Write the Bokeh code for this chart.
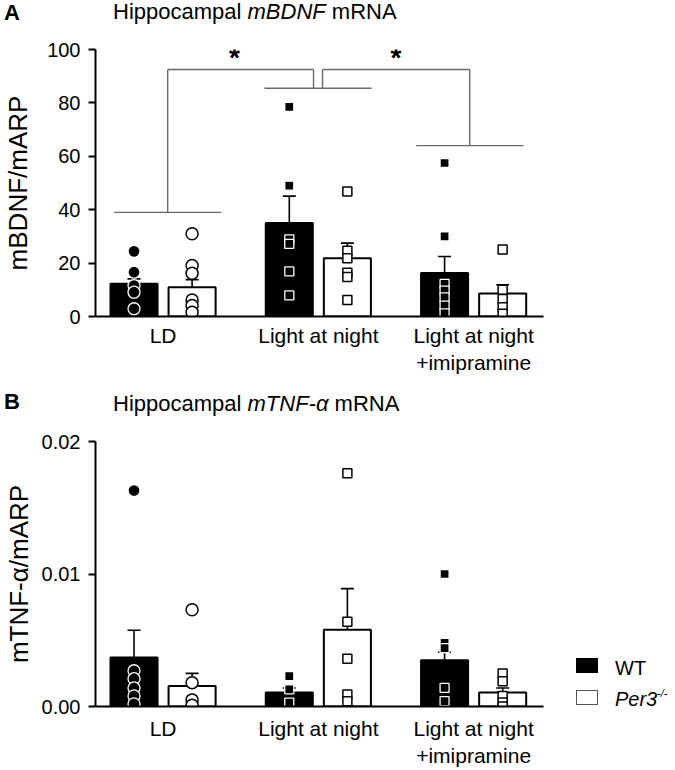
from bokeh.plotting import figure
from bokeh.layouts import column, row
from bokeh.models import (Range1d, FixedTicker, Whisker, TeeHead, NumeralTickFormatter,
                          ColumnDataSource, Div)
from bokeh.core.properties import value
from bokeh.embed import file_html
from bokeh.resources import INLINE

FONT = "Liberation Sans"

# ---------------- data ----------------
groups = ["LD", "Light at night", "Light at night\n+imipramine"]
group_x = [1, 2, 3]

# Panel A: hippocampal mBDNF mRNA (mBDNF/mARP)
bdnf_wt_mean = [12.3, 35.0, 16.3]
bdnf_wt_top = [14.1, 45.1, 22.5]
bdnf_ko_mean = [11.0, 21.8, 8.6]
bdnf_ko_top = [13.8, 27.5, 11.9]
bdnf_wt_pts = [[24.4, 16.6, 11.6, 9.1, 2.9],
               [78.5, 49.0, 28.9, 27.2, 16.9, 7.9],
               [57.5, 30.0, 12.2, 9.7, 7.2, 4.1, 1.2]]
bdnf_ko_pts = [[31.0, 19.1, 16.2, 6.2, 4.1, 1.6],
               [46.8, 24.6, 21.8, 16.4, 14.8, 6.2],
               [25.1, 10.0, 6.6, 3.5, 1.0]]

# Panel B: hippocampal mTNF-alpha mRNA (mTNF-alpha/mARP)
tnf_wt_mean = [0.0037, 0.00105, 0.0035]
tnf_wt_top = [0.00575, 0.0014, 0.0041]
tnf_ko_mean = [0.00155, 0.0058, 0.00105]
tnf_ko_top = [0.0025, 0.0089, 0.0014]
tnf_wt_pts = [[0.0163, 0.0027, 0.0021, 0.0014, 0.0008, 0.0002],
              [0.0023, 0.0013, 0.0003],
              [0.0100, 0.0048, 0.0044, 0.0014, 0.0004]]
tnf_ko_pts = [[0.0073, 0.0018, 0.0005, 0.0001],
              [0.0176, 0.0064, 0.0036, 0.0009, 0.0004],
              [0.0025, 0.0019, 0.0008, 0.0003, 0.0000]]

# significance brackets (panel A)
bracket_center = [1.03, 1.998, 2.975]
bracket_level = [39.0, 85.5, 64.0]
bracket_top = 92.5
star_x = [1.46, 2.50]
star_y = 97.0

legend_labels = ["WT", "Per3"]
legend_sup = "-/-"

# ---------------- layout constants ----------------
PAGE_W = 675
OFF = 0.187
BW = 0.303
HALF = 0.345
GAP = 0.029
XR = (0.565, 3.45)


def base_fig(width, height, y_end, top, bottom, right, yticks, ylabel, label_standoff,
             x_standoff):
    p = figure(width=width, height=height, x_range=Range1d(*XR), y_range=Range1d(0, y_end),
               output_backend="svg", toolbar_location=None,
               min_border_left=95, min_border_right=right,
               min_border_top=top, min_border_bottom=bottom)
    p.outline_line_color = None
    p.grid.visible = False
    p.background_fill_color = "white"
    p.border_fill_color = "white"
    xa = p.xaxis[0]
    xa.ticker = FixedTicker(ticks=group_x)
    xa.major_label_overrides = {g: t for g, t in zip(group_x, groups)}
    xa.major_tick_out = 0
    xa.major_tick_in = 0
    xa.minor_tick_out = 0
    xa.minor_tick_in = 0
    xa.axis_line_width = 2
    xa.axis_line_color = "black"
    xa.major_label_text_font = FONT
    xa.major_label_text_font_size = "21px"
    xa.major_label_text_color = "black"
    xa.major_label_standoff = x_standoff
    ya = p.yaxis[0]
    ya.ticker = FixedTicker(ticks=yticks)
    ya.major_tick_out = 7
    ya.major_tick_in = 0
    ya.minor_tick_out = 0
    ya.minor_tick_in = 0
    ya.axis_line_width = 2
    ya.major_tick_line_width = 2
    ya.axis_line_color = "black"
    ya.major_tick_line_color = "black"
    ya.major_label_text_font = FONT
    ya.major_label_text_font_size = "20px"
    ya.major_label_text_color = "black"
    ya.major_label_standoff = 8
    ya.axis_label = ylabel
    ya.axis_label_text_font = FONT
    ya.axis_label_text_font_size = "26px"
    ya.axis_label_text_font_style = "normal"
    ya.axis_label_text_color = "black"
    ya.axis_label_standoff = label_standoff
    return p


def draw_data(p, wt_mean, wt_top, ko_mean, ko_top, wt_pts, ko_pts, marker_list,
              csize, ssize):
    wt_x = [g - OFF for g in group_x]
    ko_x = [g + OFF for g in group_x]
    p.vbar(x=wt_x, top=wt_mean, width=BW, fill_color="black", line_color="black",
           line_width=2)
    p.vbar(x=ko_x, top=ko_mean, width=BW, fill_color="white", line_color="black",
           line_width=2)
    for xs, lo, hi in ((wt_x, wt_mean, wt_top), (ko_x, ko_mean, ko_top)):
        src = ColumnDataSource(dict(x=xs, lo=lo, hi=hi))
        w = Whisker(base="x", upper="hi", lower="lo", source=src,
                    upper_head=TeeHead(size=13, line_width=1.6, line_color="black"),
                    lower_head=None, line_width=1.6, line_color="black")
        p.add_layout(w)
    for i, g in enumerate(group_x):
        mk = marker_list[i]
        sz = csize if mk == "circle" else ssize
        p.scatter(x=[g - OFF] * len(wt_pts[i]), y=wt_pts[i], marker=mk, size=sz,
                  fill_color="black", line_color="white", line_width=1.3)
        p.scatter(x=[g + OFF] * len(ko_pts[i]), y=ko_pts[i], marker=mk, size=sz,
                  fill_color="white", line_color="black", line_width=1.5)


def header(height, letter_top, title_top, letter, title_html):
    html = (
        f'<div style="position:relative;width:{PAGE_W}px;height:{height}px;'
        f'font-family:\'{FONT}\';color:black;white-space:nowrap;">'
        f'<span style="position:absolute;left:4px;top:{letter_top}px;font-size:22px;'
        f'line-height:26px;font-weight:bold;">{letter}</span>'
        f'<span style="position:absolute;left:113px;top:{title_top}px;font-size:22px;'
        f'line-height:22px;">{title_html}</span></div>'
    )
    return Div(text=html, width=PAGE_W, height=height, margin=0)


def legend_div(width, height):
    box = "position:absolute;left:16px;width:22px;height:15px;"
    html = (
        f'<div style="position:relative;width:{width}px;height:{height}px;'
        f'font-family:\'{FONT}\';color:black;white-space:nowrap;">'
        f'<div style="{box}top:238px;background:black;border:1px solid black;"></div>'
        f'<div style="{box}top:270px;background:white;border:1.5px solid #555555;"></div>'
        f'<span style="position:absolute;left:55px;top:238px;font-size:20px;'
        f'line-height:20px;">{legend_labels[0]}</span>'
        f'<span style="position:absolute;left:55px;top:269px;font-size:20px;'
        f'line-height:20px;font-style:italic;">{legend_labels[1]}</span>'
        f'<span style="position:absolute;left:97px;top:268px;font-size:11px;'
        f'line-height:11px;font-style:italic;">{legend_sup}</span></div>'
    )
    return Div(text=html, width=width, height=height, margin=0)


markers = ["circle", "square", "square"]

# ---------------- panel A ----------------
hA = header(30, 0, 1, "A", "Hippocampal <i>mBDNF</i> mRNA")

pA = base_fig(PAGE_W, 350, 100, 19, 64, 132, [0, 20, 40, 60, 80, 100], "mBDNF/mARP",
              11, 7)
draw_data(pA, bdnf_wt_mean, bdnf_wt_top, bdnf_ko_mean, bdnf_ko_top,
          bdnf_wt_pts, bdnf_ko_pts, markers, 12, 9)

bx, by = [], []
for c, lv in zip(bracket_center, bracket_level):
    bx.append([c - HALF, c + HALF])
    by.append([lv, lv])
c0, c1, c2 = bracket_center
bx += [[c0, c0], [c1 - GAP, c1 - GAP], [c1 + GAP, c1 + GAP], [c2, c2]]
by += [[bracket_level[0], bracket_top], [bracket_level[1], bracket_top],
       [bracket_level[1], bracket_top], [bracket_level[2], bracket_top]]
bx += [[c0, c1 - GAP], [c1 + GAP, c2]]
by += [[bracket_top, bracket_top], [bracket_top, bracket_top]]
pA.multi_line(xs=bx, ys=by, line_color="#6a6a6a", line_width=1.4)
pA.text(x=star_x, y=[star_y] * len(star_x), text=["*"] * len(star_x),
        text_font=value(FONT), text_font_size="28px", text_font_style="bold",
        text_align="center", text_baseline="middle", text_color="black")

# ---------------- panel B ----------------
hB = header(40, 9, 13, "B", "Hippocampal <i>mTNF-\u03b1</i> mRNA")

pB = base_fig(560, 350, 0.02, 21, 63, 17, [0, 0.01, 0.02], "mTNF-\u03b1/mARP", 5, 10)
pB.yaxis[0].formatter = NumeralTickFormatter(format="0.00")
draw_data(pB, tnf_wt_mean, tnf_wt_top, tnf_ko_mean, tnf_ko_top,
          tnf_wt_pts, tnf_ko_pts, markers, 12, 9)

lg = legend_div(115, 350)

layout = column(hA, pA, hB, row(pB, lg, spacing=0), spacing=0)
open("out.html", "w").write(file_html(layout, INLINE))
